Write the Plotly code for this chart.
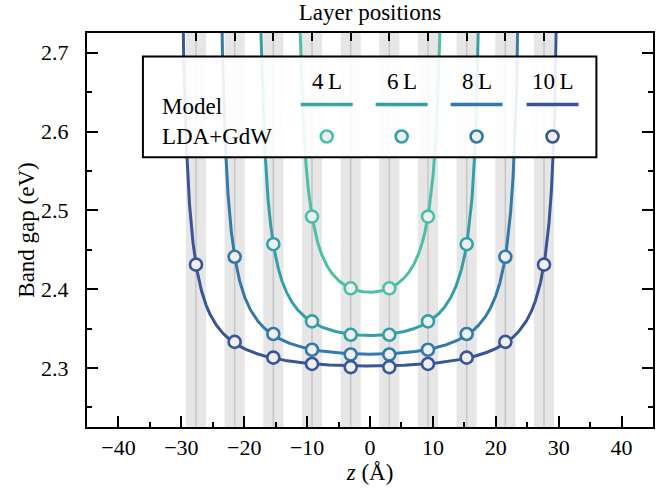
import numpy as np
import plotly.graph_objects as go

# Layer spacing (Å) and layer centre positions along z
layer_spacing = 6.15
layer_z = [-27.67, -21.52, -15.37, -9.22, -3.07, 3.07, 9.22, 15.37, 21.52, 27.67]

# Slabs: number of layers, z of each layer and LDA+GdW band gaps (eV)
slab_names = ["4\u2009L", "6\u2009L", "8\u2009L", "10\u2009L"]
slab_layers = [4, 6, 8, 10]
slab_colors = ["#4cbfa9", "#33a0a7", "#3479a8", "#3a5596"]
legend_line_colors = ["#3aa6a8", "#33a0a7", "#3479a8", "#3a5596"]

z_4L = [-9.22, -3.07, 3.07, 9.22]
gap_4L = [2.492, 2.401, 2.401, 2.492]
z_6L = [-15.37, -9.22, -3.07, 3.07, 9.22, 15.37]
gap_6L = [2.457, 2.359, 2.342, 2.342, 2.359, 2.457]
z_8L = [-21.52, -15.37, -9.22, -3.07, 3.07, 9.22, 15.37, 21.52]
gap_8L = [2.441, 2.343, 2.323, 2.317, 2.317, 2.323, 2.343, 2.441]
z_10L = [-27.67, -21.52, -15.37, -9.22, -3.07, 3.07, 9.22, 15.37, 21.52, 27.67]
gap_10L = [2.431, 2.333, 2.313, 2.305, 2.301, 2.301, 2.305, 2.313, 2.333, 2.431]

slab_z = [z_4L, z_6L, z_8L, z_10L]
slab_gap = [gap_4L, gap_6L, gap_8L, gap_10L]

FONT = "Liberation Serif"
band_halfwidth = 1.6

fig = go.Figure()


def surface_term(z, d):
    # 1/(d - z) + 1/(d + z): confinement from both slab surfaces
    return 1.0 / (d - z) + 1.0 / (d + z)


# Model curves: E(z) = E_b + K [1/(d-z) + 1/(d+z)], d = half slab thickness,
# E_b and K obtained by least squares on the LDA+GdW values
for name, n, col, zs, gs in zip(slab_names, slab_layers, slab_colors, slab_z, slab_gap):
    d = n * layer_spacing / 2
    zs = np.asarray(zs)
    gs = np.asarray(gs)
    A = np.column_stack([np.ones_like(zs), surface_term(zs, d)])
    (eb, k), *_ = np.linalg.lstsq(A, gs, rcond=None)
    zmax = d - k / (2.95 - eb)
    t = np.linspace(-np.pi / 2, np.pi / 2, 3001)
    zc = zmax * np.sin(t)
    fig.add_trace(go.Scatter(
        x=zc, y=eb + k * surface_term(zc, d), mode="lines",
        line=dict(color=col, width=3), showlegend=False, hoverinfo="skip"))

for name, col, zs, gs in zip(slab_names, slab_colors, slab_z, slab_gap):
    fig.add_trace(go.Scatter(
        x=zs, y=gs, mode="markers", name=name,
        marker=dict(size=12, color="#efefef", line=dict(color=col, width=2.6)),
        showlegend=False))

# Top axis carrying the layer positions
fig.add_trace(go.Scatter(x=layer_z, y=[None] * len(layer_z), xaxis="x2",
                         mode="markers", showlegend=False, hoverinfo="skip"))

shapes = []
for zl in layer_z:
    shapes.append(dict(type="rect", xref="x", yref="paper", x0=zl - band_halfwidth,
                       x1=zl + band_halfwidth, y0=0, y1=1, layer="below",
                       fillcolor="#e6e6e6", line=dict(width=0)))
    shapes.append(dict(type="line", xref="x", yref="paper", x0=zl, x1=zl, y0=0, y1=1,
                       layer="below", line=dict(color="#c6c6c6", width=1.5)))

# Legend panel drawn in paper coordinates
box = dict(x0=0.0988, x1=0.900, y0=0.6844, y1=0.9403)
shapes.append(dict(type="rect", xref="paper", yref="paper", layer="above",
                   fillcolor="rgba(255,255,255,0.9)", line=dict(color="black", width=2),
                   **box))
col_x = [0.4236, 0.5559, 0.6883, 0.8225]
line_y, marker_y, head_y = 0.8186, 0.7373, 0.8773
half_len = 0.0459
annotations = []
for cx, name, lc, mc in zip(col_x, slab_names, legend_line_colors, slab_colors):
    shapes.append(dict(type="line", xref="paper", yref="paper", layer="above",
                       x0=cx - half_len, x1=cx + half_len, y0=line_y, y1=line_y,
                       line=dict(color=lc, width=3.5)))
    shapes.append(dict(type="circle", xref="paper", yref="paper", layer="above",
                       xsizemode="pixel", ysizemode="pixel", xanchor=cx, yanchor=marker_y,
                       x0=-6, x1=6, y0=-6, y1=6, fillcolor="#efefef",
                       line=dict(color=mc, width=2.6)))
    annotations.append(dict(xref="paper", yref="paper", x=cx, y=head_y, text=name,
                            showarrow=False, xanchor="center", yanchor="middle",
                            font=dict(family=FONT, size=23, color="black")))
annotations.append(dict(xref="paper", yref="paper", x=0.1295, y=0.8136, text="Model",
                        showarrow=False, xanchor="left", yanchor="middle",
                        font=dict(family=FONT, size=23, color="black")))
annotations.append(dict(xref="paper", yref="paper", x=0.1295, y=0.738, text="LDA+GdW",
                        showarrow=False, xanchor="left", yanchor="middle",
                        font=dict(family=FONT, size=23, color="black")))

fig.update_layout(
    width=669, height=489,
    margin=dict(l=87, r=16, t=33, b=59),
    paper_bgcolor="white", plot_bgcolor="white",
    font=dict(family=FONT, size=22, color="black"),
    shapes=shapes, annotations=annotations,
    xaxis=dict(range=[-45, 45], tick0=0, dtick=10, ticks="inside", ticklen=11,
               tickwidth=2, tickcolor="black", showline=True, linecolor="black",
               linewidth=2, showgrid=False, zeroline=False,
               minor=dict(dtick=5, ticks="inside", ticklen=5, tickwidth=2,
                          tickcolor="black", showgrid=False),
               tickfont=dict(family=FONT, size=22),
               title=dict(text="<i>z</i> (Å)", font=dict(family=FONT, size=23),
                          standoff=0)),
    xaxis2=dict(range=[-45, 45], overlaying="x", side="top", tickvals=layer_z,
                ticks="inside", ticklen=8, tickwidth=2, tickcolor="black",
                showticklabels=False, showline=True, linecolor="black", linewidth=2,
                showgrid=False, zeroline=False,
                title=dict(text="Layer positions", font=dict(family=FONT, size=23),
                           standoff=4)),
    yaxis=dict(range=[2.225, 2.725], tick0=2.3, dtick=0.1, ticks="inside", ticklen=11,
               tickwidth=2, tickcolor="black", showline=True, linecolor="black",
               linewidth=2, mirror="ticks", showgrid=False, zeroline=False,
               tickformat=".1f", ticklabelstandoff=12,
               minor=dict(dtick=0.05, ticks="inside", ticklen=5, tickwidth=2,
                          tickcolor="black", showgrid=False),
               tickfont=dict(family=FONT, size=22),
               title=dict(text="Band gap (eV)", font=dict(family=FONT, size=23),
                          standoff=0)),
)

fig.write_html("out.html")
